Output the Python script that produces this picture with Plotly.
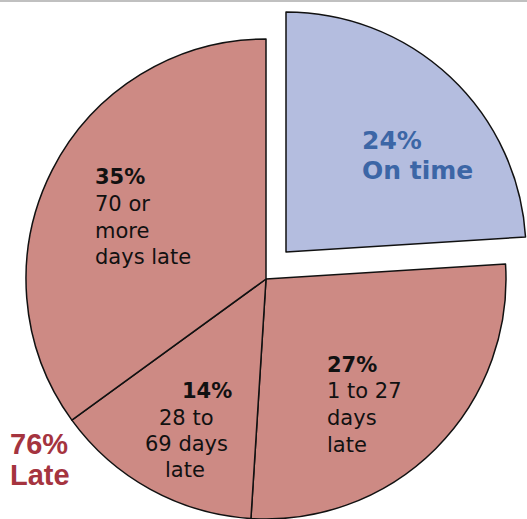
import plotly.graph_objects as go

# ---- data ----
categories = ["On time", "1 to 27 days late", "28 to 69 days late", "70 or more days late"]
values = [24, 27, 14, 35]
late_categories = categories[1:]
late_values = values[1:]
late_total = sum(late_values)  # 76

W, H = 527, 519
LATE = "#cd8a84"
ONTIME = "#b4bddf"
BLUE = "#3c66a6"
DARKRED = "#a5343f"
FONT = "DejaVu Sans, Liberation Sans, Arial, sans-serif"
FONT2 = "Liberation Sans, Arial, sans-serif"
CLEAR = "rgba(0,0,0,0)"

def px_dom_x(a, b):
    return [a / W, b / W]

def px_dom_y(top, bottom):
    return [max(0, 1 - bottom / H), min(1, 1 - top / H)]

fig = go.Figure()

# main pie: late slices (on-time slot left empty)
fig.add_trace(go.Pie(
    labels=categories, values=values, sort=False, direction="clockwise", rotation=0,
    marker=dict(colors=[CLEAR, LATE, LATE, LATE],
                line=dict(color=["rgba(0,0,0,0)", "#111", "#111", "#111"], width=[0, 1.5, 1.5, 1.5])),
    textinfo="none", hoverinfo="label+percent",
    domain=dict(x=px_dom_x(26, 506), y=px_dom_y(39, 519)),
    showlegend=False,
))

# exploded on-time slice
fig.add_trace(go.Pie(
    labels=[categories[0], "Late"], values=[values[0], late_total], sort=False,
    direction="clockwise", rotation=0,
    marker=dict(colors=[ONTIME, CLEAR],
                line=dict(color=["#111", "rgba(0,0,0,0)"], width=[1.5, 0])),
    textinfo="none", hoverinfo="label+percent",
    domain=dict(x=px_dom_x(46, 526), y=px_dom_y(12, 492)),
    showlegend=False,
))

annotations = []

def add_line(text, x, y, size, color="#111", bold=False, xanchor="left", family=FONT):
    t = f"<b>{text}</b>" if bold else text
    annotations.append(dict(
        text=t, x=x / W, y=1 - y / H, xref="paper", yref="paper",
        xanchor=xanchor, yanchor="middle", showarrow=False, borderpad=0,
        font=dict(family=family, size=size, color=color),
    ))

# 24% On time
add_line(f"{values[0]}%", 361, 140, 25, BLUE, True)
add_line("On time", 361, 170, 25, BLUE, True)

# 35%
add_line(f"{values[3]}%", 94, 177, 21, bold=True)
add_line("70 or", 94, 204, 21)
add_line("more", 94, 231, 21)
add_line("days late", 94, 257, 21)

# 14%
add_line(f"{values[2]}%", 233, 391, 21, bold=True, xanchor="right")
add_line("28 to", 186, 418, 21, xanchor="center")
add_line("69 days", 186, 444, 21, xanchor="center")
add_line("late", 185, 470, 21, xanchor="center")

# 27%
add_line(f"{values[1]}%", 326, 365, 21, bold=True)
add_line("1 to 27", 326, 391, 21)
add_line("days", 326, 418, 21)
add_line("late", 326, 445, 21)

# 76% Late
add_line(f"{late_total}%", 9, 444, 29, DARKRED, True, family=FONT2)
add_line("Late", 9, 475, 29, DARKRED, True, family=FONT2)

fig.update_layout(
    width=W, height=H,
    margin=dict(l=0, r=0, t=0, b=0),
    paper_bgcolor="white", plot_bgcolor="white",
    annotations=annotations,
    shapes=[dict(type="line", xref="paper", yref="paper", x0=0, x1=1,
                 y0=1 - 1 / H, y1=1 - 1 / H, line=dict(color="#c0c0c0", width=2))],
)

fig.write_html("out.html")
